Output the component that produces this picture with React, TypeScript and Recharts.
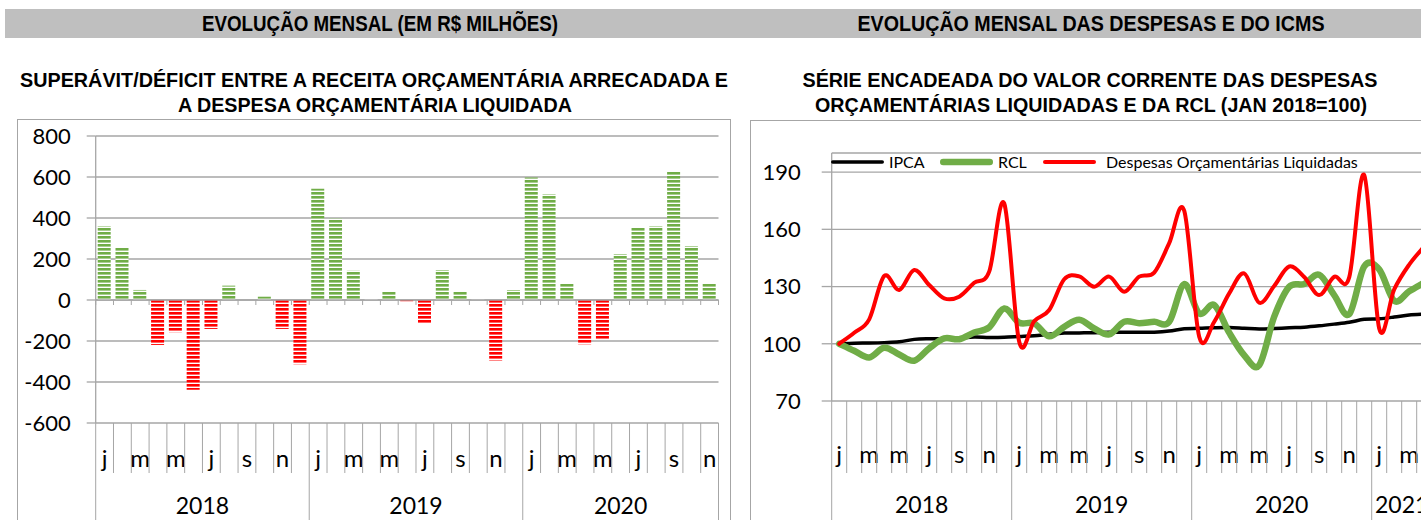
import React from 'react';
import {
  BarChart,
  Bar,
  Cell,
  LineChart,
  Line,
  XAxis,
  YAxis,
  CartesianGrid,
  ReferenceLine,
  Legend,
} from 'recharts';

// month letters used on both category axes (only odd months get a label)
const MONTH_LETTERS = ['j', 'f', 'm', 'a', 'm', 'j', 'j', 'a', 's', 'o', 'n', 'd'];
const LABELED_MONTHS = [0, 2, 4, 6, 8, 10];

// left chart: superávit/déficit (R$ milhões), jan/2018 .. nov/2020
const BAR_YEARS = [2018, 2019, 2020];
const BAR_MONTH_COUNT = [12, 12, 11];
const SALDO = [
  360, 259, 49, -219, -157, -438, -141, 70, 0, 16, -141, -313,
  543, 397, 143, 5, 39, -6, -113, 146, 39, 3, -295, 49,
  597, 516, 81, -216, -190, 224, 355, 360, 628, 263, 83,
];
const SALDO_TICKS = [-600, -400, -200, 0, 200, 400, 600, 800];

// right chart: série encadeada (jan 2018 = 100), jan/2018 .. abr/2021
const LINE_YEARS = [2018, 2019, 2020, 2021];
const LINE_MONTH_COUNT = [12, 12, 12, 4];
const IPCA = [
  100, 100.3, 100.4, 100.6, 101.0, 102.3, 102.6, 102.6, 103.0, 103.5, 103.3, 103.4,
  103.8, 104.2, 105.0, 105.6, 105.7, 105.8, 106.0, 106.1, 106.0, 106.1, 106.7, 107.9,
  108.1, 108.4, 108.5, 108.1, 107.7, 108.0, 108.4, 108.7, 109.4, 110.3, 111.3, 112.8,
  113.1, 114.0, 115.1, 115.5,
];
const RCL = [
  100, 96.3, 92.8, 97.9, 94.4, 91.1, 97.6, 102.8, 102.4, 105.9, 108.6, 118.5,
  111, 110.7, 103.9, 108.9, 112.6, 108, 104.9, 111.5, 110.8, 111.5, 111.5, 131.3,
  115.9, 120.3, 105.8, 94, 88.8, 114.2, 129.9, 131.3, 136.2, 125.5, 115.5, 140.5,
  139, 122.5, 127.5, 132,
];
const DESPESAS = [
  100, 105.8, 112.8, 135.5, 128.2, 138.7, 130.8, 123.8, 124.7, 132, 137.8, 173.6,
  101, 111.9, 117.7, 133.8, 135.3, 129.9, 135.2, 127.3, 135.2, 137.3, 152.7, 169.8,
  103.7, 111.5, 126.4, 136.9, 121.5, 130.3, 140.5, 135, 125.5, 135.1, 134.8, 188.5,
  108, 128.5, 141.5, 151,
];
const INDEX_TICKS = [70, 100, 130, 160, 190];

const SERIES = [
  { key: 'ipca', name: 'IPCA', color: '#000000', width: 3.5 },
  { key: 'rcl', name: 'RCL', color: '#70AD47', width: 6.5 },
  { key: 'despesas', name: 'Despesas Orçamentárias Liquidadas', color: '#FF0000', width: 4 },
];
const LEGEND_X = [0, 109, 212];

const GRID = '#A6A6A6';
const FONT = 'Lato, "Open Sans", sans-serif';
const TITLE_FONT = '"Liberation Sans Narrow", "Arial Narrow", "Liberation Sans", Arial, sans-serif';

function buildPeriods(years: number[], counts: number[]) {
  const out: { key: string; year: number; month: number }[] = [];
  years.forEach((y, yi) => {
    for (let m = 0; m < counts[yi]; m++) out.push({ key: `${y}-${m}`, year: y, month: m });
  });
  return out;
}

const barData = buildPeriods(BAR_YEARS, BAR_MONTH_COUNT).map((p, i) => ({ ...p, saldo: SALDO[i] }));
const lineData = buildPeriods(LINE_YEARS, LINE_MONTH_COUNT).map((p, i) => ({
  ...p,
  ipca: IPCA[i],
  rcl: RCL[i],
  despesas: DESPESAS[i],
}));

// layout of the two plot areas (svg coords)
const BAR_W = 740;
const BAR_H = 400;
const BAR_LEFT = 95.7;
const BAR_PLOT_W = 622.8;
const BAR_BW = BAR_PLOT_W / SALDO.length;

const LINE_W = 720;
const LINE_H = 400;
const LINE_LEFT = 91.7;
const LINE_BW = 15;
const LINE_PLOT_W = LINE_BW * IPCA.length;

// Excel-like smoothed line (catmull-rom through the points)
const excelSmooth: any = (context: any) => {
  let pts: number[][] = [];
  return {
    areaStart() {},
    areaEnd() {},
    lineStart() {
      pts = [];
    },
    point(x: number, y: number) {
      pts.push([x, y]);
    },
    lineEnd() {
      const n = pts.length;
      if (!n) return;
      context.moveTo(pts[0][0], pts[0][1]);
      for (let i = 0; i < n - 1; i++) {
        const p0 = pts[Math.max(i - 1, 0)];
        const p1 = pts[i];
        const p2 = pts[i + 1];
        const p3 = pts[Math.min(i + 2, n - 1)];
        context.bezierCurveTo(
          p1[0] + (p2[0] - p0[0]) / 6,
          p1[1] + (p2[1] - p0[1]) / 6,
          p2[0] - (p3[0] - p1[0]) / 6,
          p2[1] - (p3[1] - p1[1]) / 6,
          p2[0],
          p2[1],
        );
      }
    },
  };
};

type AxisLook = {
  bw: number;
  years: number[];
  counts: number[];
  monthBase: number;
  yearBase: number;
  monthLine: number;
  yearLine: number;
};

const makeMonthTick = (look: AxisLook) => (props: any) => {
  const { x, y, payload } = props;
  const [yr, mo] = String(payload.value).split('-').map(Number);
  const yi = look.years.indexOf(yr);
  const count = look.counts[yi];
  const left = x - look.bw / 2;
  const last = yi === look.years.length - 1 && mo === count - 1;
  return (
    <g>
      <line x1={left} x2={left} y1={y} y2={y + (mo === 0 ? look.yearLine : look.monthLine)} stroke={GRID} />
      {last && (
        <line x1={left + look.bw} x2={left + look.bw} y1={y} y2={y + look.yearLine} stroke={GRID} />
      )}
      {LABELED_MONTHS.includes(mo) && (
        <text x={x} y={y + look.monthBase} textAnchor="middle" fontFamily={FONT} fontSize={24} fill="#000">
          {MONTH_LETTERS[mo]}
        </text>
      )}
      {mo === 0 && (
        <text
          x={left + (count * look.bw) / 2}
          y={y + look.yearBase}
          textAnchor="middle"
          fontFamily={FONT}
          fontSize={23}
          fill="#000"
        >
          {yr}
        </text>
      )}
    </g>
  );
};

const barTick = makeMonthTick({
  bw: BAR_BW,
  years: BAR_YEARS,
  counts: BAR_MONTH_COUNT,
  monthBase: 44,
  yearBase: 91,
  monthLine: 50,
  yearLine: 140,
});

const lineTick = makeMonthTick({
  bw: LINE_BW,
  years: LINE_YEARS,
  counts: LINE_MONTH_COUNT,
  monthBase: 62,
  yearBase: 112,
  monthLine: 72,
  yearLine: 140,
});

// horizontal axis crossing at zero, with the small month ticks
const ZeroAxis = (props: any) => {
  const { x1, y1, x2 } = props;
  const n = SALDO.length;
  const step = (x2 - x1) / n;
  return (
    <g>
      <line x1={x1} x2={x2} y1={y1} y2={y1} stroke={GRID} strokeWidth={1.3} />
      {Array.from({ length: n + 1 }, (_, k) => (
        <line key={k} x1={x1 + k * step} x2={x1 + k * step} y1={y1} y2={y1 + 5} stroke={GRID} />
      ))}
    </g>
  );
};

const renderLegend = () => (
  <div style={{ position: 'relative', width: 560, height: 20, fontFamily: FONT, fontSize: 16, color: '#000' }}>
    {SERIES.map((s, i) => (
      <div
        key={s.key}
        style={{ position: 'absolute', left: LEGEND_X[i], top: 0, height: 20, display: 'flex', alignItems: 'center' }}
      >
        <svg width={53} height={20} style={{ display: 'block' }}>
          <line x1={s.width / 2} y1={10} x2={53 - s.width / 2} y2={10} stroke={s.color} strokeWidth={s.width} strokeLinecap="round" />
        </svg>
        <span style={{ marginLeft: s.key === 'despesas' ? 10 : 5, whiteSpace: 'nowrap', lineHeight: '20px' }}>{s.name}</span>
      </div>
    ))}
  </div>
);

function SaldoChart() {
  return (
    <BarChart
      width={BAR_W}
      height={BAR_H}
      data={barData}
      margin={{ top: 16, right: BAR_W - BAR_LEFT - BAR_PLOT_W, left: 0, bottom: 0 }}
      barSize={13}
    >
      <defs>
        <pattern id="stripeGreen" width="4" height="4" patternUnits="userSpaceOnUse">
          <rect width="4" height="4" fill="#ffffff" />
          <rect width="4" height="2.6" fill="#70AD47" />
        </pattern>
        <pattern id="stripeRed" width="4" height="4" patternUnits="userSpaceOnUse">
          <rect width="4" height="4" fill="#ffffff" />
          <rect width="4" height="2.6" fill="#FF0000" />
        </pattern>
      </defs>
      <CartesianGrid vertical={false} stroke={GRID} strokeWidth={1.3} />
      <XAxis
        dataKey="key"
        interval={0}
        height={97}
        tickSize={0}
        tickMargin={0}
        axisLine={false}
        tickLine={false}
        tick={barTick}
      />
      <YAxis
        domain={[-600, 800]}
        ticks={SALDO_TICKS}
        interval={0}
        width={BAR_LEFT}
        tickSize={9}
        tickMargin={16}
        axisLine={{ stroke: GRID, strokeWidth: 1.3 }}
        tickLine={{ stroke: GRID, strokeWidth: 1.3 }}
        tick={{ fontSize: 22, fill: '#000', fontFamily: FONT }}
      />
      <ReferenceLine y={0} shape={ZeroAxis} />
      <Bar dataKey="saldo" isAnimationActive={false}>
        {barData.map((d, i) => (
          <Cell key={`c-${i}`} fill={d.saldo < 0 ? 'url(#stripeRed)' : 'url(#stripeGreen)'} />
        ))}
      </Bar>
    </BarChart>
  );
}

function IndexChart() {
  return (
    <LineChart
      width={LINE_W}
      height={LINE_H}
      data={lineData}
      margin={{ top: 33, right: LINE_W - LINE_LEFT - LINE_PLOT_W, left: 0, bottom: 0 }}
    >
      <CartesianGrid vertical={false} stroke={GRID} strokeWidth={1.3} />
      <XAxis
        dataKey="key"
        interval={0}
        height={119}
        padding={{ left: LINE_BW / 2, right: LINE_BW / 2 }}
        tickSize={0}
        tickMargin={0}
        axisLine={false}
        tickLine={false}
        tick={lineTick}
      />
      <YAxis
        domain={[70, 200]}
        ticks={INDEX_TICKS}
        interval={0}
        width={LINE_LEFT}
        tickSize={10}
        tickMargin={21}
        axisLine={{ stroke: GRID, strokeWidth: 1.3 }}
        tickLine={{ stroke: GRID, strokeWidth: 1.3 }}
        tick={{ fontSize: 22, fill: '#000', fontFamily: FONT }}
      />
      <Legend
        layout="horizontal"
        verticalAlign="middle"
        align="center"
        wrapperStyle={{ left: 91, top: 32, width: 'auto', height: 'auto' }}
        content={renderLegend}
      />
      {SERIES.map((s) => (
        <Line
          key={s.key}
          dataKey={s.key}
          name={s.name}
          type={excelSmooth}
          stroke={s.color}
          strokeWidth={s.width}
          strokeLinecap="round"
          strokeLinejoin="round"
          dot={false}
          activeDot={false}
          isAnimationActive={false}
        />
      ))}
    </LineChart>
  );
}

export default function App() {
  return (
    <div
      style={{
        position: 'fixed',
        left: 0,
        top: 0,
        width: 1421,
        height: 520,
        overflow: 'hidden',
        background: '#fff',
      }}
    >
      <div style={{ position: 'absolute', left: 5, top: 9, width: 1416, height: 29, background: '#BFBFBF' }} />
      <div
        style={{
          position: 'absolute',
          left: 17,
          top: 119,
          width: 714,
          height: 440,
          border: `1px solid ${GRID}`,
          boxSizing: 'border-box',
        }}
      />
      <div
        style={{
          position: 'absolute',
          left: 750,
          top: 120,
          width: 700,
          height: 440,
          border: `1px solid ${GRID}`,
          boxSizing: 'border-box',
        }}
      />
      <svg width={1421} height={120} style={{ position: 'absolute', left: 0, top: 0 }}>
        <g fontFamily={TITLE_FONT} fontWeight="bold" fill="#000" textAnchor="middle">
          <text x={380} y={31} fontSize={22} textLength={356} lengthAdjust="spacingAndGlyphs">
            EVOLUÇÃO MENSAL (EM R$ MILHÕES)
          </text>
          <text x={1091} y={31} fontSize={22} textLength={467} lengthAdjust="spacingAndGlyphs">
            EVOLUÇÃO MENSAL DAS DESPESAS E DO ICMS
          </text>
          <text x={374} y={87} fontSize={20} textLength={708} lengthAdjust="spacingAndGlyphs">
            SUPERÁVIT/DÉFICIT ENTRE A RECEITA ORÇAMENTÁRIA ARRECADADA E
          </text>
          <text x={375} y={112} fontSize={20} textLength={394} lengthAdjust="spacingAndGlyphs">
            A DESPESA ORÇAMENTÁRIA LIQUIDADA
          </text>
          <text x={1090} y={87} fontSize={20} textLength={575} lengthAdjust="spacingAndGlyphs">
            SÉRIE ENCADEADA DO VALOR CORRENTE DAS DESPESAS
          </text>
          <text x={1091} y={112} fontSize={20} textLength={552} lengthAdjust="spacingAndGlyphs">
            ORÇAMENTÁRIAS LIQUIDADAS E DA RCL (JAN 2018=100)
          </text>
        </g>
      </svg>
      <div style={{ position: 'absolute', left: 0, top: 120 }}>
        <SaldoChart />
      </div>
      <div style={{ position: 'absolute', left: 740, top: 120 }}>
        <IndexChart />
      </div>
    </div>
  );
}
